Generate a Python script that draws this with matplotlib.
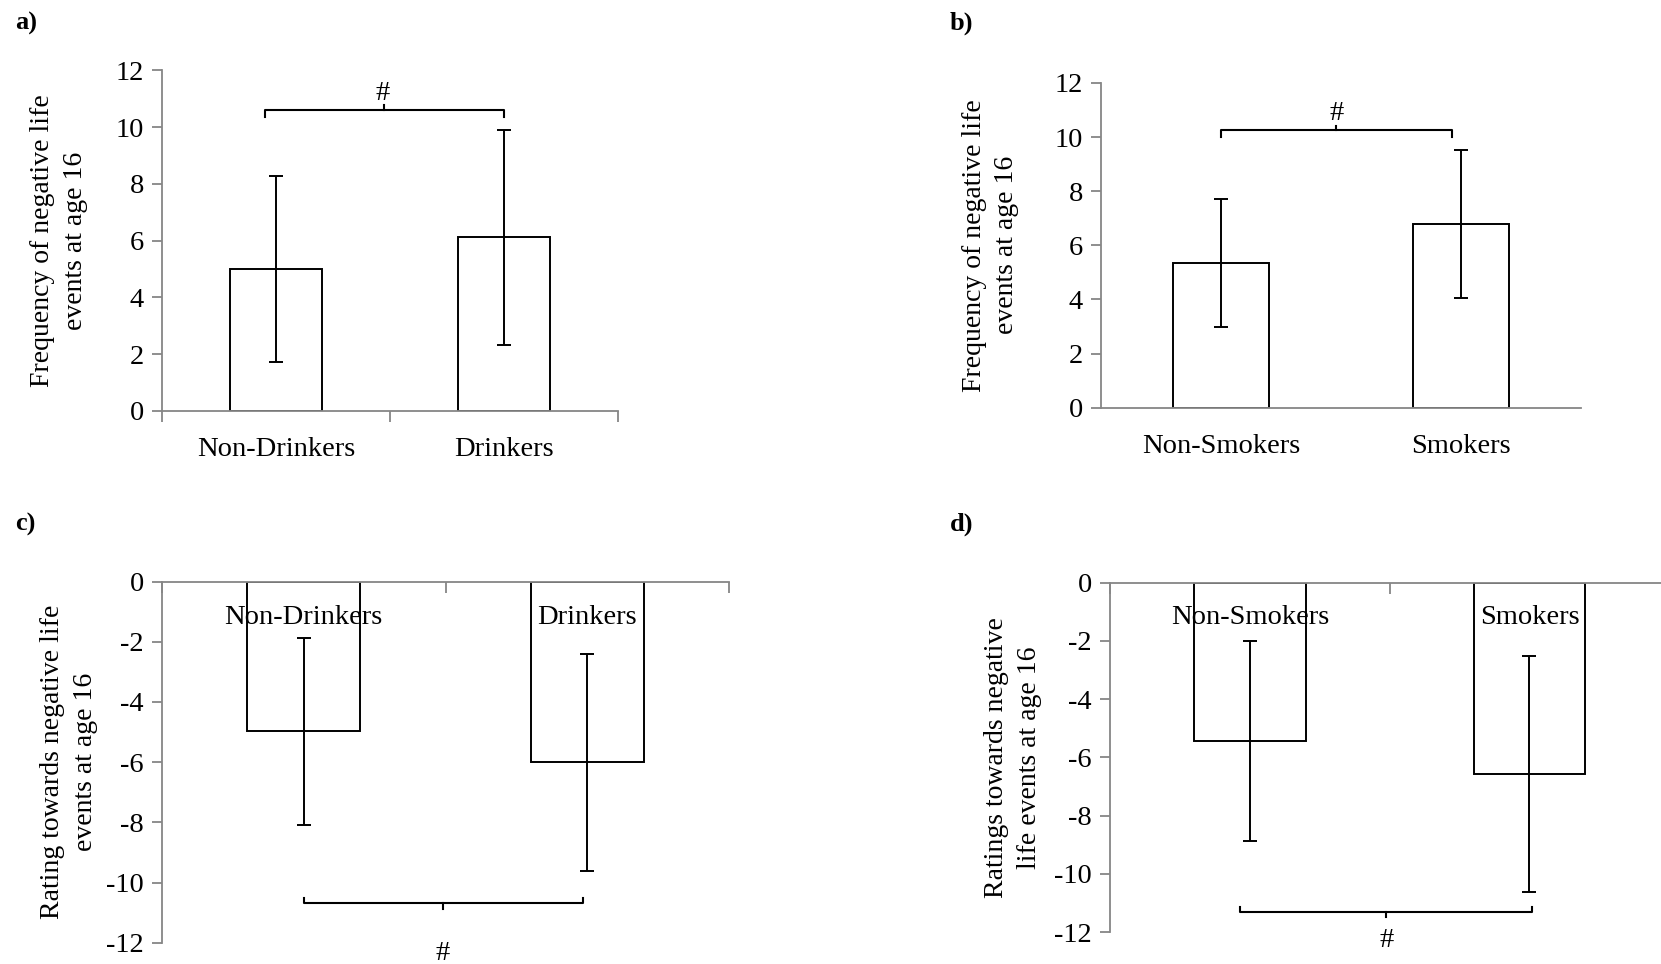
import matplotlib.pyplot as plt

plt.rcParams['font.family'] = ['Liberation Serif', 'DejaVu Serif']
plt.rcParams['axes.unicode_minus'] = False

# panel a: drinking, frequency
drink_cats = ['Non-Drinkers', 'Drinkers']
freq_drink = [5.0, 6.12]
freq_drink_err = [3.28, 3.78]

# panel b: smoking, frequency
smoke_cats = ['Non-Smokers', 'Smokers']
freq_smoke = [5.35, 6.78]
freq_smoke_err = [2.38, 2.74]

# panel c: drinking, ratings
rate_drink = [-4.98, -6.0]
rate_drink_err = [3.12, 3.6]

# panel d: smoking, ratings
rate_smoke = [-5.44, -6.57]
rate_smoke_err = [3.42, 4.05]

grey = '#868686'
fs_tick = 20.5
fs_lab = 20


def bracket(ax, x0, x1, y, end, mid):
    # end ticks go one way, the middle notch the other way
    ax.plot([x0, x0, x1, x1], [y + end, y, y, y + end], color='black', lw=1.5, clip_on=False)
    xm = (x0 + x1) / 2
    ax.plot([xm, xm], [y, y + mid], color='black', lw=1.5, clip_on=False)


def panel(rect, cats, vals, errs, ylim, ylabel, letter, letter_xy,
          neg=False, xticks=True, lpad=12):
    ax = fig.add_axes(rect)
    x = range(len(cats))
    ax.bar(x, vals, width=0.4, color='white', edgecolor='black', linewidth=1.4, zorder=2)
    ax.errorbar(x, vals, yerr=errs, fmt='none', ecolor='black', elinewidth=1.4,
                capsize=5, capthick=1.4, zorder=3)
    ax.set_xlim(-0.5, len(cats) - 0.5)
    ax.set_ylim(*ylim)
    ax.set_yticks(range(int(ylim[0]), int(ylim[1]) + 1, 2))
    ax.tick_params(axis='y', direction='out', length=7, color=grey, width=1.3,
                   labelsize=fs_tick, pad=6)
    ax.spines['right'].set_visible(False)
    ax.spines['left'].set_color(grey)
    ax.spines['left'].set_linewidth(1.3)
    if neg:
        ax.spines['bottom'].set_visible(False)
        ax.spines['top'].set_color(grey)
        ax.spines['top'].set_linewidth(1.3)
        ax.set_xticks([])
        ax.set_xticks([-0.5, 0.5, 1.5], minor=True)
        ax.tick_params(axis='x', which='minor', direction='in', top=True, bottom=False,
                       length=8, color=grey, width=1.3)
        for i, c in enumerate(cats):
            ax.text(i, -1.2, c, ha='center', va='center', fontsize=fs_tick, zorder=4)
    else:
        ax.spines['top'].set_visible(False)
        ax.spines['bottom'].set_color(grey)
        ax.spines['bottom'].set_linewidth(1.3)
        ax.set_xticks(list(x), cats)
        ax.tick_params(axis='x', which='major', length=0, labelsize=fs_tick, pad=19)
        if xticks:
            ax.set_xticks([-0.5, 0.5, 1.5], minor=True)
            ax.tick_params(axis='x', which='minor', direction='out', length=8,
                           color=grey, width=1.3)
    ax.set_ylabel(ylabel, fontsize=fs_lab, labelpad=lpad, linespacing=1.4)
    fig.text(letter_xy[0], letter_xy[1], letter, fontsize=19, fontweight='bold',
             ha='left', va='center')
    return ax


fig = plt.figure(figsize=(16.61, 9.64), dpi=100)

ax = panel([0.0975, 0.5737, 0.2745, 0.3533], drink_cats, freq_drink, freq_drink_err,
           (0, 12), 'Frequency of negative life\nevents at age 16', 'a)', (0.009, 0.976),
           lpad=20)
bracket(ax, -0.05, 1.0, 10.62, -0.25, 0.17)
ax.text(0.47, 10.75, '#', ha='center', va='bottom', fontsize=fs_tick)

ax = panel([0.663, 0.577, 0.289, 0.337], smoke_cats, freq_smoke, freq_smoke_err,
           (0, 12), 'Frequency of negative life\nevents at age 16', 'b)', (0.572, 0.976),
           xticks=False, lpad=25.5)
bracket(ax, 0.0, 0.96, 10.25, -0.25, 0.17)
ax.text(0.48, 10.4, '#', ha='center', va='bottom', fontsize=fs_tick)

ax = panel([0.0975, 0.022, 0.3415, 0.3747], drink_cats, rate_drink, rate_drink_err,
           (-12, 0), 'Rating towards negative life\nevents at age 16', 'c)', (0.009, 0.456),
           neg=True, lpad=6)
bracket(ax, 0.0, 0.985, -10.69, 0.17, -0.2)
ax.text(0.49, -11.95, '#', ha='center', va='top', fontsize=fs_tick, clip_on=False)

ax = panel([0.6683, 0.033, 0.3367, 0.3626], smoke_cats, rate_smoke, rate_smoke_err,
           (-12, 0), 'Ratings towards negative\nlife events at age 16', 'd)', (0.572, 0.456),
           neg=True, lpad=9)
bracket(ax, -0.035, 1.01, -11.29, 0.17, -0.2)
ax.text(0.49, -11.85, '#', ha='center', va='top', fontsize=fs_tick, clip_on=False)

fig.savefig('out.png', dpi=100)
